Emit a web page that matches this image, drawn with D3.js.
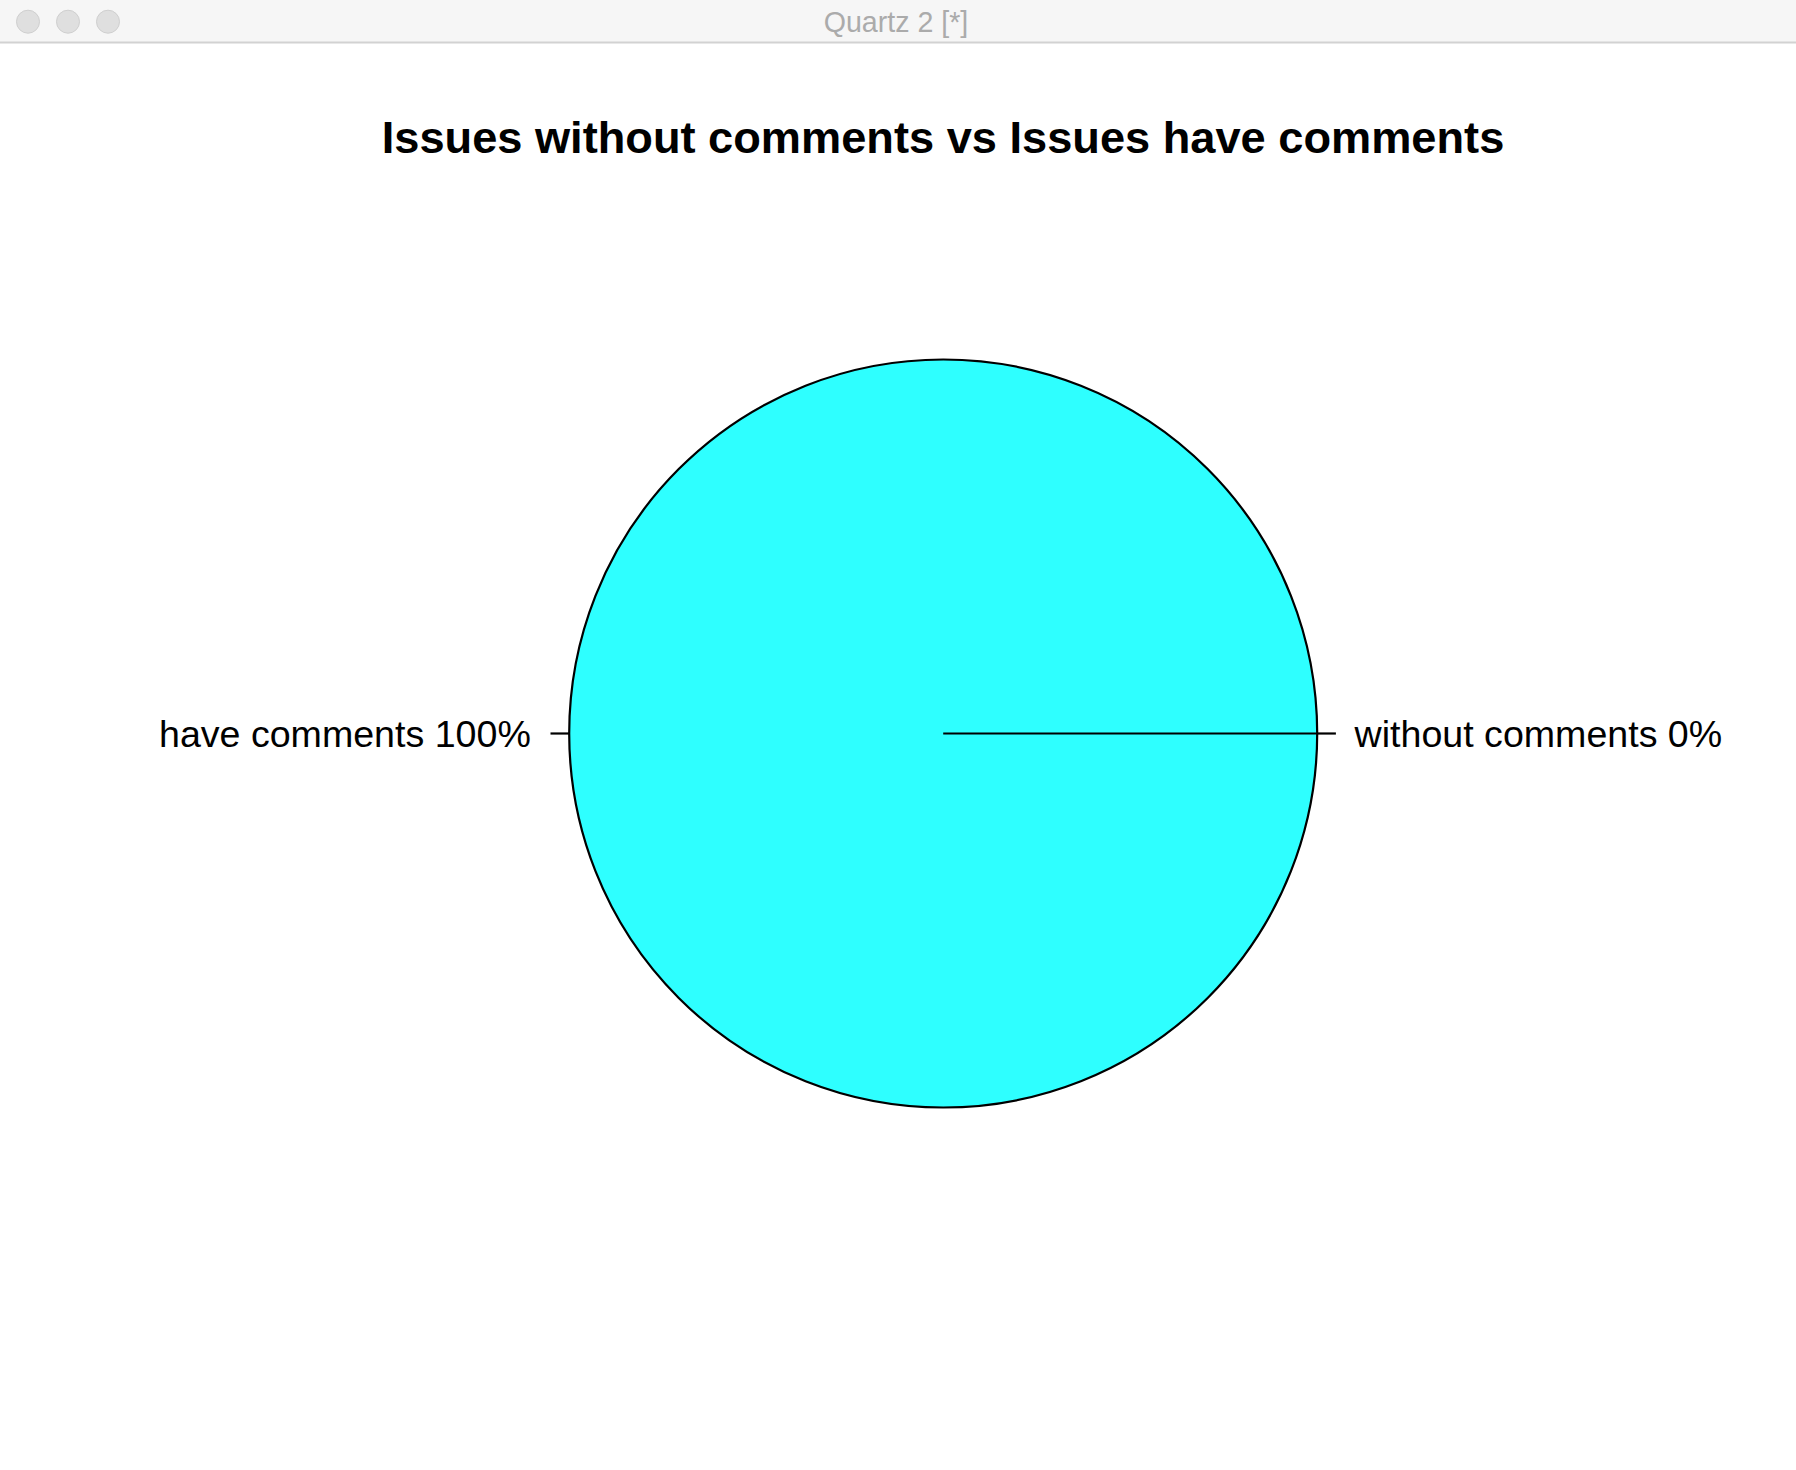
<!DOCTYPE html>
<html>
<head>
<meta charset="utf-8">
<script src="https://cdn.jsdelivr.net/npm/d3@7"></script>
<style>
  html, body { margin: 0; padding: 0; background: #fff; }
  svg { display: block; }
</style>
</head>
<body>
<svg id="chart" width="1796" height="1470"></svg>
<script>
// ---- data ----
const categories = ["without comments", "have comments"];
const values = [0, 100];
const percentLabels = ["0%", "100%"];
const sliceColors = ["#ff0000", "#2effff"];
const chartTitle = "Issues without comments vs Issues have comments";
const windowTitle = "Quartz 2 [*]";

const W = 1796, H = 1470;
const svg = d3.select("#chart");

// ---- window chrome ----
svg.append("rect").attr("x", 0).attr("y", 0).attr("width", W).attr("height", 43).attr("fill", "#f6f6f6");
svg.append("line").attr("x1", 0).attr("x2", W).attr("y1", 42.5).attr("y2", 42.5)
  .attr("stroke", "#d2d2d2").attr("stroke-width", 2);
[28, 68, 108].forEach(cx => {
  svg.append("circle").attr("cx", cx).attr("cy", 21.7).attr("r", 11.5)
    .attr("fill", "#dfdfdf").attr("stroke", "#cfcfcf").attr("stroke-width", 1);
});
svg.append("text").attr("x", 896).attr("y", 32).attr("text-anchor", "middle")
  .attr("font-family", "'Liberation Sans', Arial, sans-serif").attr("font-size", 28.6)
  .attr("fill", "#ababab").text(windowTitle);

// ---- title ----
svg.append("text").attr("x", 943).attr("y", 152.5).attr("text-anchor", "middle")
  .attr("font-family", "'Liberation Sans', Arial, sans-serif").attr("font-weight", "bold")
  .attr("font-size", 45.2).attr("fill", "#000").text(chartTitle);

// ---- pie ----
const cx = 943.2, cy = 733.5, R = 374;
const g = svg.append("g").attr("transform", `translate(${cx},${cy})`);

// R-style: counterclockwise from 3 o'clock
const pie = d3.pie().sort(null).value(d => d)
  .startAngle(Math.PI / 2).endAngle(Math.PI / 2 - 2 * Math.PI);
const arcs = pie(values);
const arc = d3.arc().innerRadius(0).outerRadius(R);

g.selectAll("path.slice").data(arcs).join("path")
  .attr("class", "slice")
  .attr("d", arc)
  .attr("fill", (d, i) => sliceColors[i])
  .attr("stroke", "#000")
  .attr("stroke-width", 2.2)
  .attr("stroke-linejoin", "round");

// explicit line for the zero-size slice (R draws its edge as a radius)
arcs.forEach((d, i) => {
  const a = (d.startAngle + d.endAngle) / 2;
  const ux = Math.sin(a), uy = -Math.cos(a);
  if (d.value === 0) {
    g.append("line").attr("x1", 0).attr("y1", 0).attr("x2", ux * R).attr("y2", uy * R)
      .attr("stroke", "#000").attr("stroke-width", 2.2);
  }
  // tick
  g.append("line")
    .attr("x1", ux * R).attr("y1", uy * R)
    .attr("x2", ux * R * 1.05).attr("y2", uy * R * 1.05)
    .attr("stroke", "#000").attr("stroke-width", 2.2);
  // label
  const fs = 37.6;
  g.append("text")
    .attr("x", ux * R * 1.1 + (ux < 0 ? -1 : 0))
    .attr("y", uy * R * 1.1 + fs * 0.716 / 2)
    .attr("text-anchor", ux >= 0 ? "start" : "end")
    .attr("font-family", "'Liberation Sans', Arial, sans-serif")
    .attr("font-size", fs)
    .attr("fill", "#000")
    .text(categories[i] + " " + percentLabels[i]);
});
</script>
</body>
</html>
